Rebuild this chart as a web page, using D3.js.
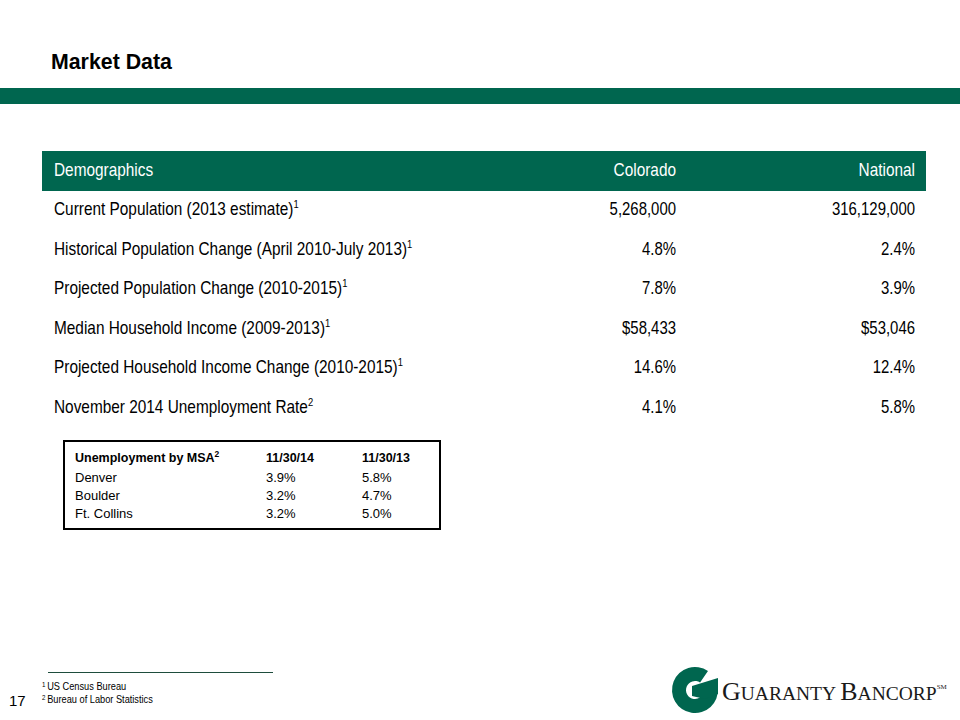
<!DOCTYPE html>
<html><head><meta charset="utf-8">
<script src="https://cdn.jsdelivr.net/npm/d3@7"></script>
<style>body{margin:0;background:#fff}svg{display:block}</style>
</head><body>
<script>
const title = "Market Data";
const headers = ["Demographics", "Colorado", "National"];
const rowLabels = [
  "Current Population (2013 estimate)",
  "Historical Population Change (April 2010-July 2013)",
  "Projected Population Change (2010-2015)",
  "Median Household Income (2009-2013)",
  "Projected Household Income Change (2010-2015)",
  "November 2014 Unemployment Rate"
];
const rowNotes = ["1", "1", "1", "1", "1", "2"];
const colorado = ["5,268,000", "4.8%", "7.8%", "$58,433", "14.6%", "4.1%"];
const national = ["316,129,000", "2.4%", "3.9%", "$53,046", "12.4%", "5.8%"];

const msaHeaders = ["Unemployment by MSA", "11/30/14", "11/30/13"];
const msaNames = ["Denver", "Boulder", "Ft. Collins"];
const msa2014 = ["3.9%", "3.2%", "3.2%"];
const msa2013 = ["5.8%", "4.7%", "5.0%"];

const footnotes = [["1", "US Census Bureau"], ["2", "Bureau of Labor Statistics"]];
const pageNumber = "17";

const W = 960, H = 720;
const green = "#00664f";
const sans = "'Liberation Sans',Arial,sans-serif";
const SX = 0.855; // horizontal condensing to mimic Arial Narrow
const SXN = 0.83;

const svg = d3.select("body").append("svg").attr("width", W).attr("height", H);

function ntext(parent, x, y, sx) {
  return parent.append("text").attr("transform", `translate(${x},${y}) scale(${sx},1)`)
    .attr("font-family", sans);
}

// title
ntext(svg, 51, 69, 0.97).text(title).attr("font-weight", "bold").attr("font-size", 22).attr("fill", "#000");
svg.append("rect").attr("x", 0).attr("y", 88).attr("width", W).attr("height", 16).attr("fill", green);

// main table
const tx0 = 42, tx1 = 926;
svg.append("rect").attr("x", tx0).attr("y", 151).attr("width", tx1 - tx0).attr("height", 40).attr("fill", green);
const colX = [54, 676, 915];
const colAnchor = ["start", "end", "end"];
headers.forEach((h, i) => {
  ntext(svg, colX[i], 176, SX).attr("text-anchor", colAnchor[i])
    .attr("font-size", 18).attr("fill", "#fff").text(h);
});

const yRow = d3.scaleBand().domain(d3.range(rowLabels.length)).range([189, 426]);
rowLabels.forEach((d, i) => {
  const y = yRow(i) + yRow.bandwidth() / 2 + 6.5;
  const t = ntext(svg, colX[0], y, SX).attr("font-size", 18).attr("fill", "#000");
  t.append("tspan").text(d);
  t.append("tspan").attr("dy", -7).attr("font-size", 11).text(rowNotes[i]);
  ntext(svg, colX[1], y, SXN).attr("text-anchor", "end").attr("font-size", 18).attr("fill", "#000").text(colorado[i]);
  ntext(svg, colX[2], y, SXN).attr("text-anchor", "end").attr("font-size", 18).attr("fill", "#000").text(national[i]);
});

// MSA inset
svg.append("rect").attr("x", 64).attr("y", 441).attr("width", 376).attr("height", 88)
  .attr("fill", "none").attr("stroke", "#000").attr("stroke-width", 2);
const mX = [75, 266, 362];
msaHeaders.forEach((d, i) => {
  const t = svg.append("text").attr("x", mX[i]).attr("y", 462)
    .attr("font-family", sans).attr("font-weight", "bold").attr("font-size", 12.5).attr("fill", "#000");
  t.append("tspan").text(d);
  if (i === 0) t.append("tspan").attr("dy", -5).attr("font-size", 8.5).text("2");
});
const yM = d3.scaleBand().domain(d3.range(msaNames.length)).range([468, 522]);
msaNames.forEach((n, i) => {
  const y = yM(i) + yM.bandwidth() / 2 + 5;
  [n, msa2014[i], msa2013[i]].forEach((v, j) => {
    svg.append("text").attr("x", mX[j]).attr("y", y).text(v)
      .attr("font-family", sans).attr("font-size", 13).attr("fill", "#000");
  });
});

// footnotes
svg.append("line").attr("x1", 48).attr("x2", 273).attr("y1", 672.5).attr("y2", 672.5)
  .attr("stroke", "#1e4d3d").attr("stroke-width", 1);
footnotes.forEach((f, i) => {
  const t = ntext(svg, 42, 690 + i * 13, 0.88).attr("font-size", 10.5).attr("fill", "#000");
  t.append("tspan").attr("font-size", 7).attr("dy", -3).text(f[0]);
  t.append("tspan").attr("dy", 3).attr("dx", 2).text(f[1]);
});
svg.append("text").attr("x", 9).attr("y", 706).text(pageNumber)
  .attr("font-family", sans).attr("font-size", 15).attr("fill", "#000");

// logo
const lg = svg.append("g").attr("transform", "translate(695,690)");
lg.append("path").attr("d", d3.arc()({innerRadius: 9, outerRadius: 23, startAngle: 1.5, endAngle: 2 * Math.PI + 0.6}))
  .attr("fill", green);
lg.append("path").attr("d", "M -3,-4 L 23,-12 L 23,4 L 10,9 L -3,6 Z").attr("fill", green);
const lt = svg.append("text").attr("x", 722).attr("y", 700)
  .attr("font-family", "'Liberation Serif','Times New Roman',serif").attr("fill", "#1a1a1a");
lt.append("tspan").attr("font-size", 26).text("G");
lt.append("tspan").attr("font-size", 19.5).text("UARANTY ");
lt.append("tspan").attr("font-size", 26).text("B");
lt.append("tspan").attr("font-size", 19.5).text("ANCORP");
lt.append("tspan").attr("font-size", 7).attr("dy", -11).text("SM");
</script>
</body></html>
